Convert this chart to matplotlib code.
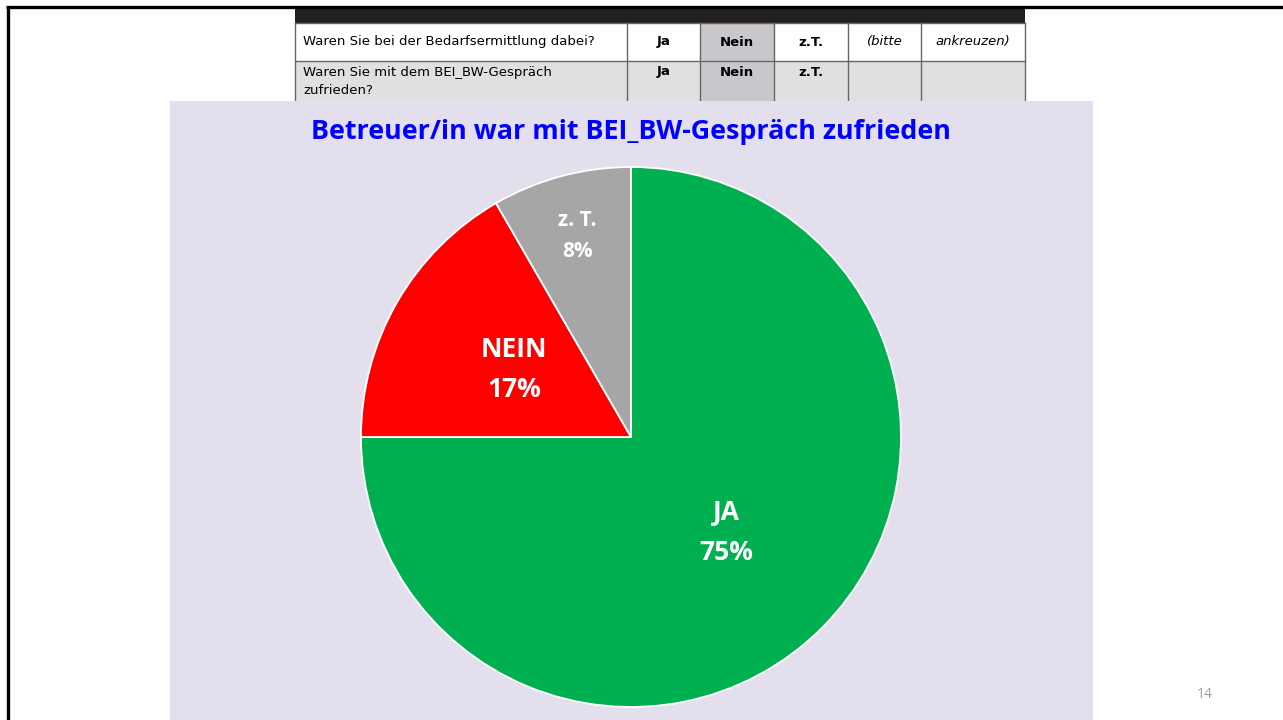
import numpy as np
import matplotlib
matplotlib.use('Agg')
import matplotlib.pyplot as plt
from matplotlib.patches import Rectangle

# survey answers (n = 12)
labels = ['JA', 'NEIN', 'z. T.']
counts = [9, 2, 1]
colors = ['#00B050', '#FF0000', '#A6A6A6']
title = 'Betreuer/in war mit BEI_BW-Gespräch zufrieden'

# questionnaire snippet shown above the chart
questions = ['Waren Sie bei der Bedarfsermittlung dabei?',
             'Waren Sie mit dem BEI_BW-Gespräch\nzufrieden?']
answers = ['Ja', 'Nein', 'z.T.']
hint = ['(bitte', 'ankreuzen)']

W, H = 1283, 720
fig = plt.figure(figsize=(W / 100, H / 100), dpi=100)
fig.patch.set_facecolor('white')

# background axes in pixel coords
bg = fig.add_axes([0, 0, 1, 1])
bg.set_xlim(0, W)
bg.set_ylim(H, 0)
bg.axis('off')

# slide frame
bg.plot([7.5, 7.5], [H, 7], color='black', lw=2.4, solid_capstyle='butt')
bg.plot([6, W], [7, 7], color='black', lw=2.4, solid_capstyle='butt')

# table
cols = [295, 627, 700, 774, 848, 921, 1025]
rows = [23, 61, 104]
bg.add_patch(Rectangle((cols[0], 8), cols[-1] - cols[0], rows[0] - 8,
                       facecolor='#231F20', edgecolor='none', zorder=1))
bg.add_patch(Rectangle((cols[0], rows[0]), cols[-1] - cols[0], rows[1] - rows[0],
                       facecolor='white', edgecolor='none', zorder=1))
bg.add_patch(Rectangle((cols[0], rows[1]), cols[-1] - cols[0], rows[2] - rows[1],
                       facecolor='#E0E0E0', edgecolor='none', zorder=1))
bg.add_patch(Rectangle((cols[2], rows[0]), cols[3] - cols[2], rows[2] - rows[0],
                       facecolor='#C9C7CC', edgecolor='none', zorder=1))
for x in cols:
    bg.plot([x, x], [rows[0], rows[2]], color='#666666', lw=1.0, zorder=2)
for y in rows[:2]:
    bg.plot([cols[0], cols[-1]], [y, y], color='#666666', lw=1.0, zorder=2)

tfont = dict(family='DejaVu Sans', fontsize=9.5, color='black', zorder=3)
bg.text(cols[0] + 8, 42, questions[0], va='center', ha='left', **tfont)
bg.text(cols[0] + 8, 81.5, questions[1], va='center', ha='left',
        linespacing=1.45, **tfont)
for i, a in enumerate(answers):
    xc = (cols[i + 1] + cols[i + 2]) / 2
    bg.text(xc, 42, a, ha='center', va='center', fontweight='bold', **tfont)
    bg.text(xc, 72, a, ha='center', va='center', fontweight='bold', **tfont)
for i, h in enumerate(hint):
    xc = (cols[i + 4] + cols[i + 5]) / 2
    bg.text(xc, 42, h, ha='center', va='center', style='italic', **tfont)

# chart panel
bg.add_patch(Rectangle((170, 101), 1093 - 170, H - 101,
                       facecolor='#E4DFEC', edgecolor='none', zorder=4))
bg.text(631, 132, title, ha='center', va='center', color='#0000FF',
        fontsize=19.4, fontweight='bold', family='Open Sans', zorder=5)

# page number
bg.text(1205, 694, '14', ha='center', va='center', color='#A0A0A0',
        fontsize=10, family='Open Sans', zorder=5)

# pie
cx, cy, r = 631, 437, 270
ax = fig.add_axes([(cx - r) / W, (H - cy - r) / H, 2 * r / W, 2 * r / H])
wedges, _ = ax.pie(counts, colors=colors, startangle=90, counterclock=False,
                   radius=1.0, wedgeprops=dict(edgecolor='white', linewidth=1.3))
ax.set_xlim(-1, 1)
ax.set_ylim(-1, 1)
ax.axis('off')

total = sum(counts)
dist = [0.5, 0.5, 0.77]
fsz = [19, 19, 15]
lsp = [1.6, 1.6, 1.65]
for w, lab, c, d, fs, ls in zip(wedges, labels, counts, dist, fsz, lsp):
    ang = np.deg2rad((w.theta1 + w.theta2) / 2)
    pct = round(100 * c / total)
    ax.text(d * np.cos(ang), d * np.sin(ang), f'{lab}\n{pct}%',
            ha='center', va='center', color='white', fontsize=fs,
            fontweight='bold', family='Open Sans', linespacing=ls)

fig.savefig('out.png', dpi=100)
